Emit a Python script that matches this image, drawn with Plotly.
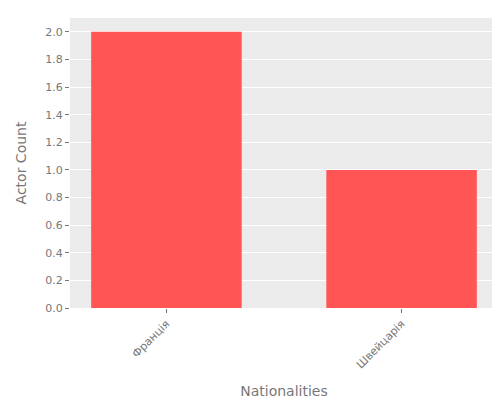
import plotly.graph_objects as go

nationalities = ["Франція", "Швейцарія"]
actor_counts = [2, 1]

fig = go.Figure(go.Bar(x=nationalities, y=actor_counts, marker_color="#FF5555",
                       marker_line_width=0, width=0.64))
fig.update_layout(
    width=500, height=400,
    margin=dict(l=62, r=10, t=10, b=100, pad=0),
    paper_bgcolor="white", plot_bgcolor="#EBEBEB",
    font=dict(family="DejaVu Sans", size=11, color="#777777"),
    showlegend=False,
)
fig.update_xaxes(title=dict(text="Nationalities", font=dict(size=14, color="#777777")),
                 range=[-0.41, 1.41], tickangle=-45, ticks="outside", ticklen=4,
                 tickcolor="#777777", showgrid=False, automargin=False)
fig.update_yaxes(title=dict(text="Actor Count", font=dict(size=14, color="#777777")),
                 range=[0, 2.1], dtick=0.2, tickformat=".1f", ticks="outside", ticklen=4,
                 tickcolor="#777777", gridcolor="white", zeroline=False, automargin=False)
fig.write_html("out.html")
